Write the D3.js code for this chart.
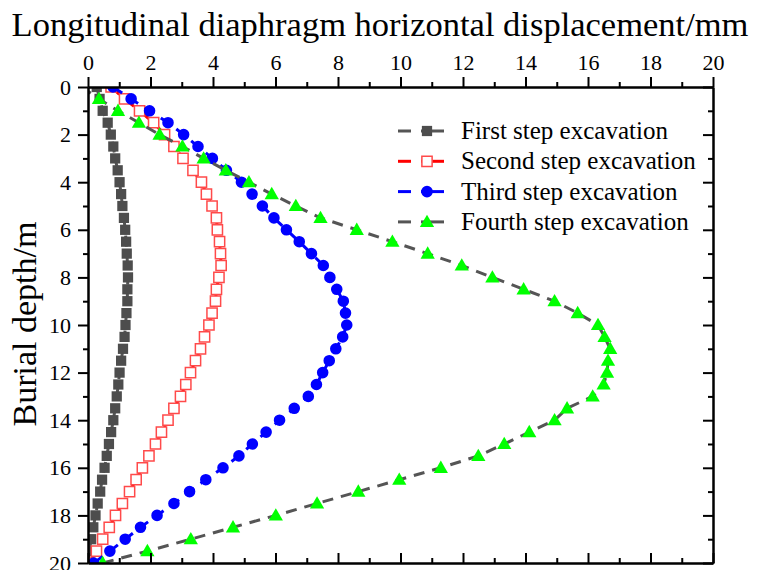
<!DOCTYPE html>
<html>
<head>
<meta charset="utf-8">
<script src="https://cdn.jsdelivr.net/npm/d3@7"></script>
</head>
<body style="margin:0">
<svg id="chart" width="761" height="570"></svg>
<script>
// Burial depth (m) of each measuring point
const depth = [0, 0.5, 1, 1.5, 2, 2.5, 3, 3.5, 4, 4.5, 5, 5.5, 6, 6.5, 7, 7.5, 8, 8.5, 9, 9.5, 10,
  10.5, 11, 11.5, 12, 12.5, 13, 13.5, 14, 14.5, 15, 15.5, 16, 16.5, 17, 17.5, 18, 18.5, 19, 19.5, 20];

// Horizontal displacement (mm) after each excavation step
const firstStep = [0.28, 0.37, 0.47, 0.63, 0.73, 0.81, 0.87, 0.95, 1.01, 1.06, 1.10, 1.15, 1.19, 1.22, 1.24, 1.27, 1.28, 1.26, 1.26, 1.23, 1.20,
  1.17, 1.12, 1.06, 1.01, 0.97, 0.92, 0.87, 0.81, 0.74, 0.67, 0.60, 0.53, 0.45, 0.39, 0.31, 0.24, 0.17, 0.10, 0.04, 0.00];
const secondStep = [0.74, 1.17, 1.65, 2.10, 2.45, 2.75, 3.04, 3.36, 3.63, 3.79, 3.97, 4.11, 4.14, 4.21, 4.24, 4.26, 4.19, 4.11, 4.08, 3.97, 3.87,
  3.73, 3.60, 3.44, 3.28, 3.13, 2.96, 2.75, 2.56, 2.35, 2.16, 1.95, 1.74, 1.54, 1.33, 1.10, 0.88, 0.68, 0.47, 0.27, 0.05];
const thirdStep = [0.80, 1.38, 1.97, 2.56, 3.06, 3.52, 3.98, 4.43, 4.91, 5.25, 5.58, 5.95, 6.35, 6.76, 7.15, 7.53, 7.74, 7.96, 8.17, 8.24, 8.28,
  8.15, 7.93, 7.72, 7.51, 7.31, 7.05, 6.60, 6.13, 5.70, 5.26, 4.83, 4.32, 3.77, 3.25, 2.75, 2.21, 1.68, 1.19, 0.70, 0.18];
const fourthStep = [-0.20, 0.35, 0.96, 1.63, 2.29, 3.02, 3.70, 4.41, 5.15, 5.88, 6.65, 7.44, 8.60, 9.74, 10.87, 11.96, 12.94, 13.94, 14.93, 15.67, 16.32,
  16.53, 16.71, 16.64, 16.61, 16.50, 16.15, 15.33, 14.93, 14.12, 13.32, 12.49, 11.29, 9.96, 8.65, 7.33, 6.01, 4.64, 3.29, 1.90, 0.47];

const seriesNames = ["First step excavation", "Second step excavation", "Third step excavation", "Fourth step excavation"];
const seriesValues = [firstStep, secondStep, thirdStep, fourthStep];

// Axis ticks
const xMajorTicks = [0, 2, 4, 6, 8, 10, 12, 14, 16, 18, 20];
const xMinorTicks = [1, 3, 5, 7, 9, 11, 13, 15, 17, 19];
const yMajorTicks = [0, 2, 4, 6, 8, 10, 12, 14, 16, 18, 20];
const yMinorTicks = [1, 3, 5, 7, 9, 11, 13, 15, 17, 19];

const xTitle = "Longitudinal diaphragm horizontal displacement/mm";
const yTitle = "Burial depth/m";

const FONT = '"Liberation Serif"';

// Visual style of each series
const styles = [
  { line: "#555555", marker: "square", fill: "#4d4d4d", stroke: "#4d4d4d" },
  { line: "#ff0000", marker: "square", fill: "#ffffff", stroke: "#ff4a4a" },
  { line: "#0000ff", marker: "circle", fill: "#0000ff", stroke: "#0000ff" },
  { line: "#555555", marker: "triangle", fill: "#00ff00", stroke: "#00ff00" }
];

const W = 761, H = 570;
const m = { left: 88, right: 48, top: 87, bottom: 7 };
const pw = W - m.left - m.right, ph = H - m.top - m.bottom;

const svg = d3.select("#chart");
const x = d3.scaleLinear().domain([0, 20]).range([m.left, m.left + pw]);
const y = d3.scaleLinear().domain([0, 20]).range([m.top, m.top + ph]);

svg.append("defs").append("clipPath").attr("id", "plot-clip")
  .append("rect").attr("x", m.left).attr("y", m.top).attr("width", pw).attr("height", ph);

const symbolFor = {
  square: d3.symbol().type(d3.symbolSquare).size(105),
  circle: d3.symbol().type(d3.symbolCircle).size(105),
  triangle: d3.symbol().type(d3.symbolTriangle).size(88)
};

const plot = svg.append("g").attr("clip-path", "url(#plot-clip)");

seriesValues.forEach((vals, i) => {
  const st = styles[i];
  const pts = depth.map((d, k) => [vals[k], d]);
  const line = d3.line().x(p => x(p[0])).y(p => y(p[1]));
  const g = plot.append("g");
  g.append("path").attr("d", line(pts))
    .attr("fill", "none").attr("stroke", st.line).attr("stroke-width", 3)
    .attr("stroke-dasharray", "11,8");
  g.selectAll("path.mk").data(pts).join("path").attr("class", "mk")
    .attr("d", symbolFor[st.marker]())
    .attr("transform", p => `translate(${x(p[0])},${y(p[1]) + (st.marker === "triangle" ? 1 : 0)})`)
    .attr("fill", st.fill).attr("stroke", st.stroke)
    .attr("stroke-width", st.marker === "square" && i === 1 ? 1.5 : 0);
});

// Axes: labelled top and left, plain bottom and right
const axisStyle = g => {
  g.attr("font-family", null).attr("font-size", null);
  g.selectAll(".domain").attr("stroke", "#000").attr("stroke-width", 2);
  g.selectAll(".tick line").attr("stroke", "#000").attr("stroke-width", 2);
  g.selectAll("text").style("font-family", FONT).attr("font-size", 22).attr("fill", "#000");
};

svg.append("g").attr("transform", `translate(0,${m.top})`)
  .call(d3.axisTop(x).tickValues(xMajorTicks).tickSize(10).tickSizeOuter(0).tickPadding(7))
  .call(axisStyle);
svg.append("g").attr("transform", `translate(0,${m.top})`)
  .call(d3.axisTop(x).tickValues(xMinorTicks).tickSize(5).tickSizeOuter(0).tickFormat(""))
  .call(axisStyle);

svg.append("g").attr("transform", `translate(0,${m.top + ph})`)
  .call(d3.axisBottom(x).tickValues(xMajorTicks).tickSize(-10).tickSizeOuter(0).tickFormat(""))
  .call(axisStyle);
svg.append("g").attr("transform", `translate(0,${m.top + ph})`)
  .call(d3.axisBottom(x).tickValues(xMinorTicks).tickSize(-5).tickSizeOuter(0).tickFormat(""))
  .call(axisStyle);

svg.append("g").attr("transform", `translate(${m.left},0)`)
  .call(d3.axisLeft(y).tickValues(yMajorTicks).tickSize(10).tickSizeOuter(0).tickPadding(7))
  .call(axisStyle);
svg.append("g").attr("transform", `translate(${m.left},0)`)
  .call(d3.axisLeft(y).tickValues(yMinorTicks).tickSize(5).tickSizeOuter(0).tickFormat(""))
  .call(axisStyle);

svg.append("g").attr("transform", `translate(${m.left + pw},0)`)
  .call(d3.axisRight(y).tickValues(yMajorTicks).tickSize(-10).tickSizeOuter(0).tickFormat(""))
  .call(axisStyle);
svg.append("g").attr("transform", `translate(${m.left + pw},0)`)
  .call(d3.axisRight(y).tickValues(yMinorTicks).tickSize(-5).tickSizeOuter(0).tickFormat(""))
  .call(axisStyle);

// Axis titles
const titleX = svg.append("text").attr("x", (10 + 750) / 2).attr("y", 36)
  .attr("text-anchor", "middle").attr("font-size", 34.5).attr("fill", "#000")
  .style("font-family", FONT).text(xTitle);
// keep the long title inside the page width
const tw = titleX.node().getComputedTextLength();
if (tw > 745) titleX.attr("font-size", 34.5 * 745 / tw);

svg.append("text").attr("transform", `translate(36,${m.top + ph / 2 - 1}) rotate(-90)`)
  .attr("text-anchor", "middle").attr("font-size", 34).attr("fill", "#000")
  .style("font-family", FONT).text(yTitle);

// Legend
const legend = svg.append("g");
const legY0 = 131, legDy = 30.3;
seriesNames.forEach((name, i) => {
  const st = styles[i];
  const gy = legY0 + i * legDy;
  const row = legend.append("g");
  row.append("line").attr("x1", 398).attr("x2", 411).attr("y1", gy).attr("y2", gy)
    .attr("stroke", st.line).attr("stroke-width", 3);
  row.append("line").attr("x1", 421).attr("x2", 444).attr("y1", gy).attr("y2", gy)
    .attr("stroke", st.line).attr("stroke-width", 3);
  row.append("path").attr("d", symbolFor[st.marker]())
    .attr("transform", `translate(427,${gy + (st.marker === "triangle" ? 1 : 0)})`)
    .attr("fill", st.fill).attr("stroke", st.stroke)
    .attr("stroke-width", st.marker === "square" && i === 1 ? 1.5 : 0);
  row.append("text").attr("x", 461).attr("y", gy + 8)
    .attr("font-size", 25).attr("fill", "#000").style("font-family", FONT).text(name);
});
</script>
</body>
</html>
